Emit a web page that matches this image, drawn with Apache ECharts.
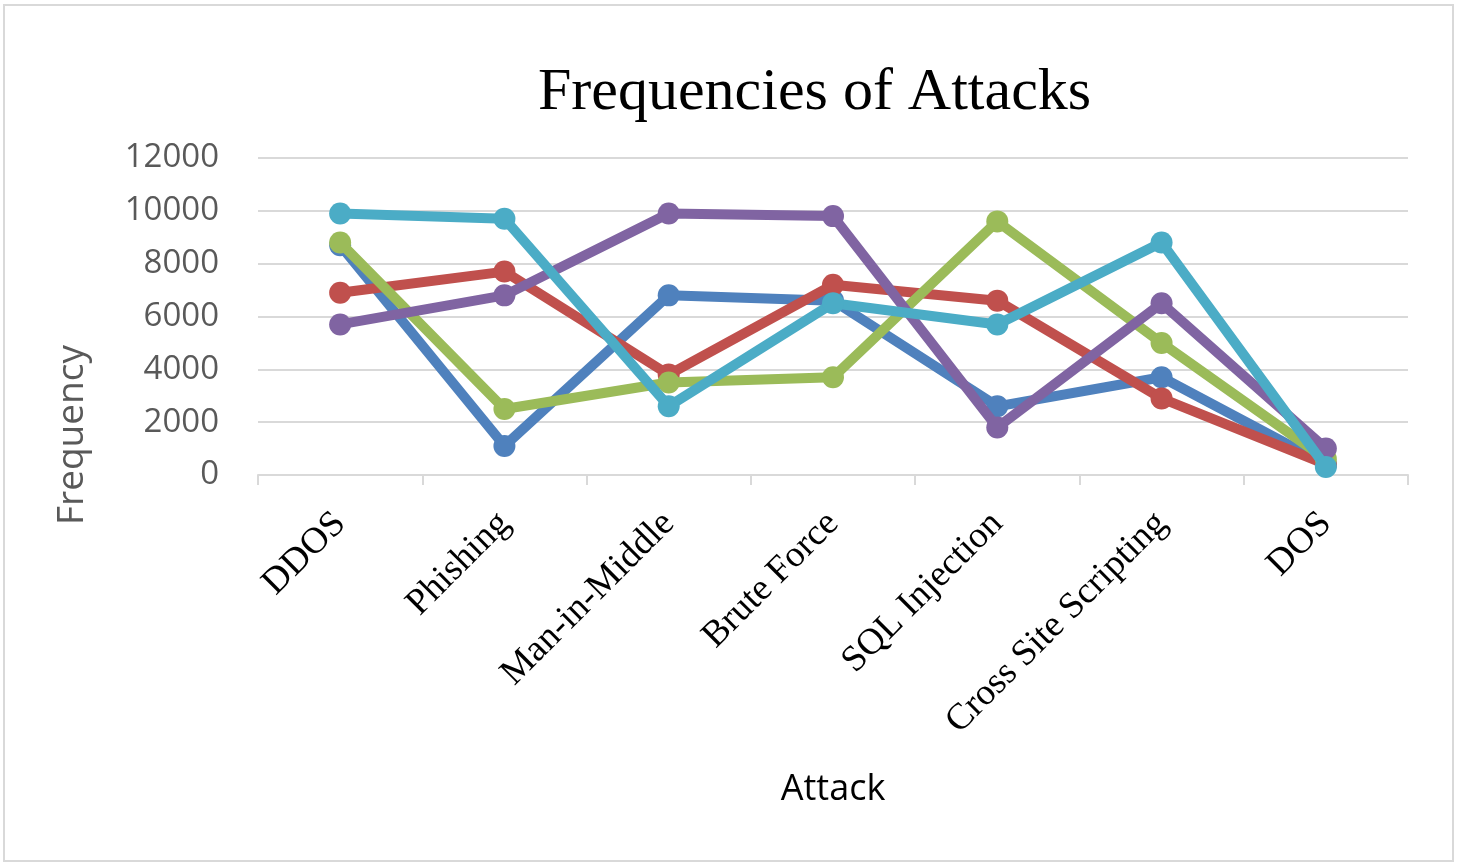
<!DOCTYPE html>
<html>
<head>
<meta charset="utf-8">
<title>Frequencies of Attacks</title>
<script src="https://cdn.jsdelivr.net/npm/echarts@6/dist/echarts.min.js"></script>
<style>
  html, body { margin: 0; padding: 0; background: #ffffff; }
  #chart { width: 1461px; height: 864px; }
</style>
</head>
<body>
<div id="chart"></div>
<script>
// Attack types along the category axis
const categories = ['DDOS', 'Phishing', 'Man-in-Middle', 'Brute Force', 'SQL Injection', 'Cross Site Scripting', 'DOS'];

// Frequency ticks on the value axis
const yTicks = { min: 0, max: 12000, interval: 2000 };

// Five series of attack frequencies, one value per attack type
const series1 = [8700, 1100, 6800, 6600, 2600, 3700, 400];
const series2 = [6900, 7700, 3800, 7200, 6600, 2900, 400];
const series3 = [8800, 2500, 3500, 3700, 9600, 5000, 600];
const series4 = [5700, 6800, 9900, 9800, 1800, 6500, 1000];
const series5 = [9900, 9700, 2600, 6500, 5700, 8800, 300];

const seriesNames = ['Series1', 'Series2', 'Series3', 'Series4', 'Series5'];
const seriesData = [series1, series2, series3, series4, series5];
const colors = ['#4F81BD', '#C0504D', '#9BBB59', '#8064A2', '#4BACC6'];

const chart = echarts.init(document.getElementById('chart'), null, { renderer: 'canvas' });

chart.setOption({
  animation: false,
  backgroundColor: '#ffffff',
  title: {
    text: 'Frequencies of Attacks',
    left: 533,
    top: 58,
    textStyle: {
      fontFamily: '"Liberation Serif", "Times New Roman", serif',
      fontSize: 60,
      fontWeight: 'normal',
      color: '#000000'
    }
  },
  graphic: [
    {
      type: 'rect',
      shape: { x: 4, y: 5, width: 1449, height: 856 },
      style: { fill: 'none', stroke: '#D9D9D9', lineWidth: 2 },
      silent: true,
      z: -1
    },
    {
      type: 'text',
      x: 72,
      y: 435,
      rotation: Math.PI / 2,
      style: {
        text: 'Frequency',
        fontFamily: '"Open Sans", sans-serif',
        fontSize: 37,
        fill: '#595959',
        align: 'center',
        verticalAlign: 'middle'
      }
    }
  ],
  grid: {
    left: 258,
    right: 53,
    top: 158,
    bottom: 389,
    containLabel: false
  },
  xAxis: {
    type: 'category',
    data: categories,
    boundaryGap: true,
    name: 'Attack',
    nameLocation: 'middle',
    nameGap: 297,
    nameTextStyle: {
      fontFamily: '"Open Sans", sans-serif',
      fontSize: 36,
      color: '#000000'
    },
    axisLine: { show: true, lineStyle: { color: '#D9D9D9', width: 2 } },
    axisTick: { show: true, length: 10, lineStyle: { color: '#D9D9D9', width: 2 } },
    axisLabel: {
      rotate: 45,
      interval: 0,
      margin: 43,
      fontFamily: '"Liberation Serif", "Times New Roman", serif',
      fontSize: 37,
      color: '#000000'
    },
    splitLine: { show: false }
  },
  yAxis: {
    type: 'value',
    min: yTicks.min,
    max: yTicks.max,
    interval: yTicks.interval,
    axisLine: { show: false },
    axisTick: { show: false },
    axisLabel: {
      margin: 39,
      formatter: (v) => String(v),
      fontFamily: '"Open Sans", sans-serif',
      fontSize: 33,
      color: '#595959'
    },
    splitLine: { show: true, lineStyle: { color: '#D9D9D9', width: 2 } }
  },
  series: seriesData.map((data, i) => ({
    name: seriesNames[i],
    type: 'line',
    data: data,
    symbol: 'circle',
    symbolSize: 22,
    lineStyle: { width: 10, color: colors[i] },
    itemStyle: { color: colors[i] },
    z: 2 + i
  }))
});
</script>
</body>
</html>
